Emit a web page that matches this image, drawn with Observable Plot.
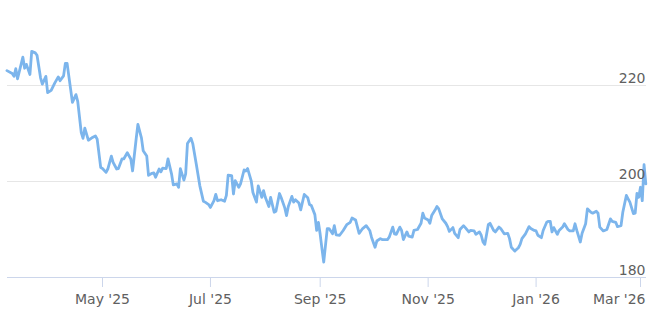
<!DOCTYPE html>
<html>
<head>
<meta charset="utf-8">
<script src="https://cdn.jsdelivr.net/npm/d3@7"></script>
<script src="https://cdn.jsdelivr.net/npm/@observablehq/plot@0.6"></script>
<style>
  html, body { margin: 0; padding: 0; background: #fff; }
  #chart { width: 672px; height: 315px; }
</style>
</head>
<body>
<div id="chart"></div>
<script>
const dates = [
"2025-03-08","2025-03-11","2025-03-12","2025-03-13","2025-03-14","2025-03-17","2025-03-18","2025-03-19","2025-03-21","2025-03-22",
"2025-03-24","2025-03-25","2025-03-27","2025-03-28","2025-03-30","2025-03-31","2025-04-02","2025-04-04","2025-04-06","2025-04-07",
"2025-04-09","2025-04-10","2025-04-11","2025-04-13","2025-04-14","2025-04-16","2025-04-17","2025-04-19","2025-04-20","2025-04-21",
"2025-04-23","2025-04-25","2025-04-27","2025-04-28","2025-04-30","2025-05-01","2025-05-03","2025-05-04","2025-05-06","2025-05-07",
"2025-05-09","2025-05-10","2025-05-12","2025-05-13","2025-05-15","2025-05-17","2025-05-18","2025-05-20","2025-05-21","2025-05-23",
"2025-05-24","2025-05-26","2025-05-27","2025-05-29","2025-05-30","2025-05-31","2025-06-02","2025-06-03","2025-06-04","2025-06-06",
"2025-06-07","2025-06-09","2025-06-10","2025-06-12","2025-06-13","2025-06-14","2025-06-16","2025-06-17","2025-06-18","2025-06-20",
"2025-06-21","2025-06-23","2025-06-25","2025-06-27","2025-06-28","2025-06-30","2025-07-01","2025-07-03","2025-07-04","2025-07-05",
"2025-07-07","2025-07-09","2025-07-10","2025-07-11","2025-07-13","2025-07-14","2025-07-15","2025-07-17","2025-07-18","2025-07-20",
"2025-07-21","2025-07-22","2025-07-24","2025-07-25","2025-07-27","2025-07-28","2025-07-30","2025-07-31","2025-08-01","2025-08-03",
"2025-08-04","2025-08-06","2025-08-07","2025-08-09","2025-08-10","2025-08-12","2025-08-13","2025-08-14","2025-08-16","2025-08-17",
"2025-08-18","2025-08-20","2025-08-21","2025-08-23","2025-08-25","2025-08-26","2025-08-27","2025-08-29","2025-08-30","2025-08-31",
"2025-09-01","2025-09-02","2025-09-03","2025-09-05","2025-09-06","2025-09-08","2025-09-09","2025-09-10","2025-09-12","2025-09-14",
"2025-09-16","2025-09-18","2025-09-19","2025-09-21","2025-09-23","2025-09-25","2025-09-27","2025-09-29","2025-09-30","2025-10-02",
"2025-10-03","2025-10-05","2025-10-06","2025-10-09","2025-10-10","2025-10-12","2025-10-13","2025-10-14","2025-10-16","2025-10-17",
"2025-10-18","2025-10-20","2025-10-21","2025-10-23","2025-10-24","2025-10-26","2025-10-28","2025-10-29","2025-10-30","2025-11-01",
"2025-11-02","2025-11-03","2025-11-05","2025-11-06","2025-11-07","2025-11-09","2025-11-11","2025-11-12","2025-11-13","2025-11-15",
"2025-11-16","2025-11-18","2025-11-19","2025-11-21","2025-11-22","2025-11-24","2025-11-25","2025-11-27","2025-11-28","2025-11-30",
"2025-12-01","2025-12-02","2025-12-03","2025-12-05","2025-12-06","2025-12-08","2025-12-09","2025-12-11","2025-12-12","2025-12-14",
"2025-12-16","2025-12-17","2025-12-18","2025-12-20","2025-12-22","2025-12-23","2025-12-24","2025-12-26","2025-12-28","2025-12-29",
"2025-12-31","2026-01-01","2026-01-02","2026-01-04","2026-01-05","2026-01-07","2026-01-08","2026-01-09","2026-01-10","2026-01-11",
"2026-01-13","2026-01-14","2026-01-16","2026-01-17","2026-01-19","2026-01-20","2026-01-22","2026-01-23","2026-01-24","2026-01-26",
"2026-01-27","2026-01-29","2026-01-30","2026-02-01","2026-02-02","2026-02-04","2026-02-05","2026-02-06","2026-02-08","2026-02-10",
"2026-02-12","2026-02-13","2026-02-15","2026-02-16","2026-02-18","2026-02-19","2026-02-21","2026-02-22","2026-02-23","2026-02-25",
"2026-02-26","2026-02-27","2026-02-28","2026-03-01","2026-03-02","2026-03-03","2026-03-04"
];
const values = [
223.1,222.5,221.9,223.5,221.4,225.9,223.6,224.4,222.3,227.1,
226.8,226.3,221.6,220.3,221.9,218.5,219.0,220.5,221.8,221.0,
222.0,224.6,224.6,219.2,216.5,218.1,216.7,210.2,209.0,211.1,
208.6,209.1,209.5,208.8,202.9,202.7,201.9,202.6,205.3,204.0,
202.6,202.7,204.7,204.7,206.0,204.7,202.2,208.8,211.9,209.1,
206.4,205.3,201.3,201.7,201.8,200.9,202.6,202.0,202.8,202.7,
204.7,201.6,199.3,199.5,198.8,202.7,200.3,201.6,207.9,209.0,
207.9,203.6,199.1,195.9,195.7,195.2,194.6,196.0,197.3,196.0,
196.2,195.9,197.1,201.3,201.2,197.4,200.2,198.8,199.5,202.4,
202.2,202.7,200.2,197.7,195.7,199.1,196.7,198.1,196.7,194.8,
196.7,193.6,193.8,197.5,196.6,194.5,192.9,194.8,196.9,195.7,
196.2,195.5,194.1,197.3,196.6,195.2,195.0,193.1,189.8,191.5,
189.0,186.0,183.2,190.2,190.2,189.1,190.8,188.9,188.8,189.8,
191.0,191.5,192.4,192.0,189.2,190.2,190.8,189.8,188.4,186.3,
187.6,188.1,187.9,187.9,188.4,190.5,189.1,189.0,190.5,189.8,
187.9,189.5,188.6,188.4,189.8,190.0,191.3,193.4,192.4,192.0,
191.3,192.9,194.1,194.8,194.3,192.2,191.3,190.6,189.6,190.4,
189.2,188.3,190.0,190.8,190.4,189.5,189.8,189.7,189.0,189.5,
188.8,187.4,186.9,191.0,191.3,189.8,189.5,190.5,190.2,189.1,
189.2,188.1,186.3,185.5,186.2,186.9,188.1,189.1,190.6,190.2,
189.8,189.7,188.8,188.3,189.8,191.5,191.7,191.7,189.5,190.4,
189.0,189.8,190.5,191.2,190.0,189.7,189.7,191.2,189.8,187.4,
189.2,191.2,194.3,193.6,193.4,193.8,193.4,190.5,189.7,190.0,
192.2,191.7,191.5,190.6,190.8,193.6,197.1,196.4,195.7,193.3,
193.4,197.5,196.7,198.8,196.0,203.5,199.5
];
const tickDates = ["2025-05-01","2025-07-01","2025-09-01","2025-11-01","2026-01-01","2026-03-01"];
const tickLabels = ["May '25","Jul '25","Sep '25","Nov '25","Jan '26","Mar '26"];
const yTicks = [180, 200, 220];

const data = dates.map((d, i) => ({date: new Date(d), value: values[i]}));
const tickD = tickDates.map(d => new Date(d));
const n = tickD.length;

const chart = Plot.plot({
  width: 672,
  height: 315,
  marginLeft: 7,
  marginRight: 26,
  marginTop: 0,
  marginBottom: 38,
  style: {fontFamily: "'DejaVu Sans', sans-serif", fontSize: "14px", background: "#fff", color: "#606060"},
  x: {type: "utc", domain: [tickD[0], tickD[n - 1]], range: [102, 640]},
  y: {domain: [180, 220], range: [277, 85], axis: null},
  marks: [
    Plot.ruleY(yTicks.filter(v => v !== 180), {stroke: "#e6e6e6", strokeWidth: 1}),
    Plot.ruleY([yTicks[0]], {stroke: "#ccd6eb", strokeWidth: 1}),
    Plot.axisX(tickD, {anchor: "bottom", tickSize: 10, tickFormat: () => "", stroke: "#ccd6eb"}),
    Plot.text(tickD.slice(0, n - 1), {
      x: d => d, text: tickLabels.slice(0, n - 1),
      frameAnchor: "bottom", lineAnchor: "bottom", dy: 26, fill: "#606060", fontSize: 14
    }),
    Plot.text([tickD[n - 1]], {
      x: d => d, text: [tickLabels[n - 1]],
      frameAnchor: "bottom", lineAnchor: "bottom", textAnchor: "end", dx: 5, dy: 26, fill: "#606060", fontSize: 14
    }),
    Plot.line(data, {x: "date", y: "value", stroke: "#7cb5ec", strokeWidth: 2.8, strokeLinejoin: "round", strokeLinecap: "round"}),
    Plot.text(yTicks, {
      y: d => d, text: d => String(d),
      frameAnchor: "right", textAnchor: "end", lineAnchor: "bottom", dx: -1, dy: -3, fill: "#606060", fontSize: 14
    })
  ]
});
document.getElementById("chart").appendChild(chart);
</script>
</body>
</html>
